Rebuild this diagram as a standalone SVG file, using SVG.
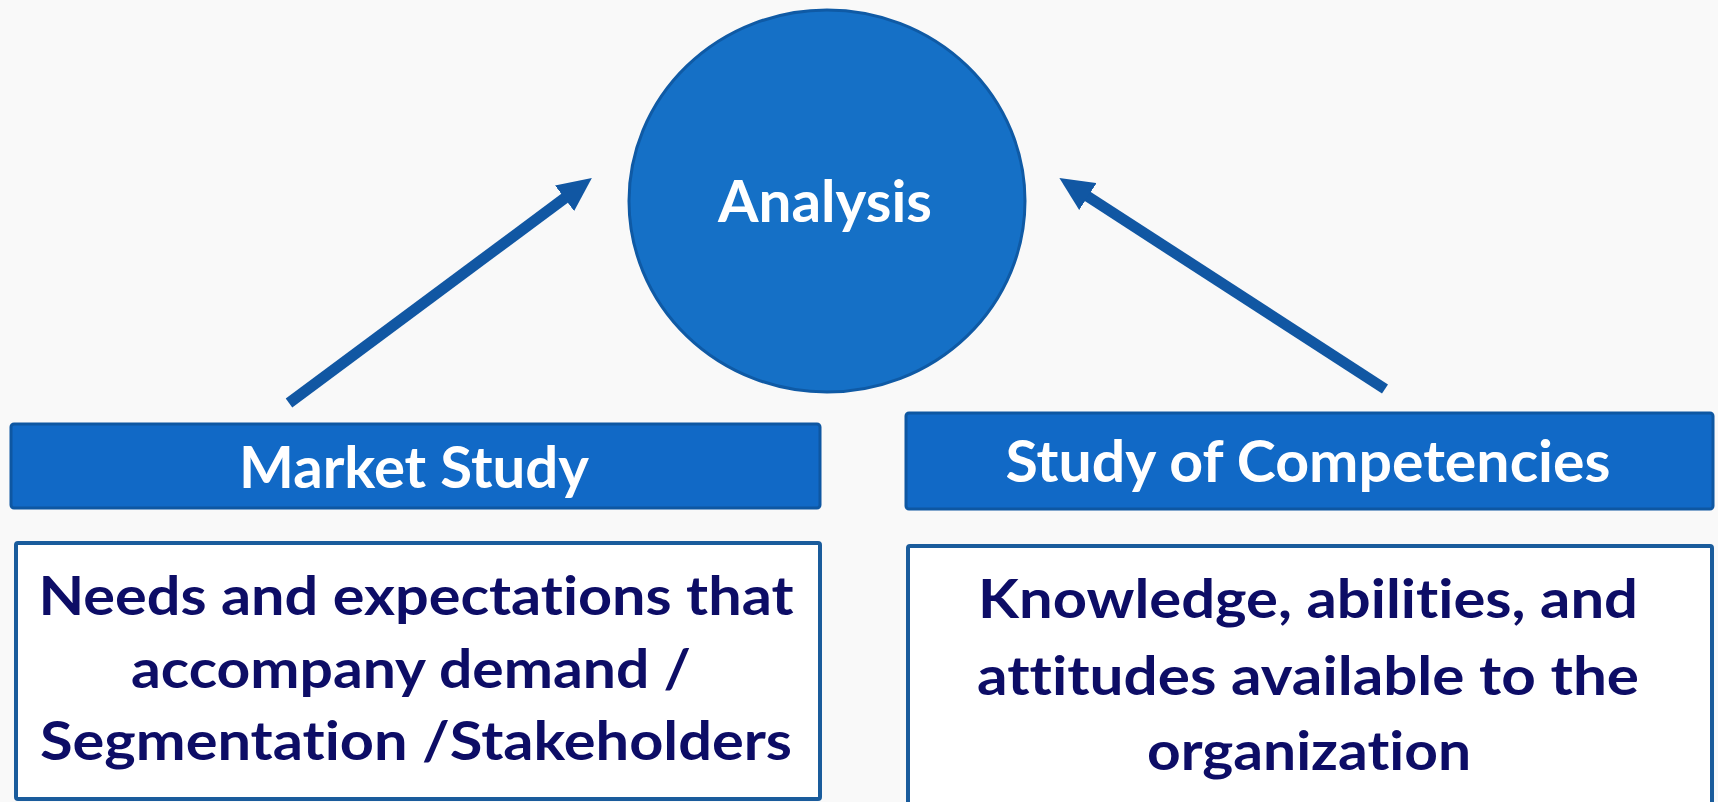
<svg xmlns="http://www.w3.org/2000/svg" width="1718" height="802" viewBox="0 0 1718 802">
  <defs>
    <marker id="head" markerUnits="userSpaceOnUse" markerWidth="34" markerHeight="32" viewBox="0 0 34 32" refX="13" refY="16" orient="auto">
      <path d="M0,0 L34,16 L0,32 z" fill="#1157A3"/>
    </marker>
    <style>
      .bg { fill: #F9F9F9; }
      .hub { fill: #1570C6; stroke: #0F5AA5; stroke-width: 3; }
      .bar { fill: #1169C6; stroke: #0E57A2; stroke-width: 3; }
      .card { fill: #FFFFFF; stroke: #1A5C9C; stroke-width: 4; }
      text { font-variant-ligatures: none; font-family: Lato, "Open Sans", sans-serif; font-weight: 700; text-anchor: middle; }
      .light { fill: #FFFFFF; }
      .dark { fill: #0D0D66; font-size: 54px; }
      .link { stroke: #1157A3; stroke-width: 11; fill: none; marker-end: url(#head); }
    </style>
  </defs>

  <rect class="bg" x="0" y="0" width="1718" height="802"/>

  <g id="connectors">
    <line class="link" x1="289" y1="403" x2="575" y2="190.5"/>
    <line class="link" x1="1385" y1="389" x2="1077" y2="189.5"/>
  </g>

  <g id="analysis">
    <ellipse class="hub" cx="827" cy="201" rx="198" ry="191"/>
    <text class="light" x="825" y="222" font-size="58" textLength="214" lengthAdjust="spacingAndGlyphs">Analysis</text>
  </g>

  <g id="market-study">
    <rect class="bar" x="11" y="424" width="809" height="84" rx="3"/>
    <text class="light" x="414" y="488" font-size="57" textLength="350" lengthAdjust="spacingAndGlyphs">Market Study</text>
  </g>

  <g id="study-of-competencies">
    <rect class="bar" x="906" y="413" width="807" height="96" rx="3"/>
    <text class="light" x="1308" y="482" font-size="57" textLength="605" lengthAdjust="spacingAndGlyphs">Study of Competencies</text>
  </g>

  <g id="market-details">
    <rect class="card" x="16" y="543" width="804" height="256" rx="2"/>
    <text class="dark" x="416" y="615" textLength="755" lengthAdjust="spacingAndGlyphs">Needs and expectations that</text>
    <text class="dark" x="411" y="688" textLength="560" lengthAdjust="spacingAndGlyphs">accompany demand /</text>
    <text class="dark" x="416" y="760" textLength="752" lengthAdjust="spacingAndGlyphs">Segmentation /Stakeholders</text>
  </g>

  <g id="competency-details">
    <rect class="card" x="908" y="546" width="804" height="262" rx="2"/>
    <text class="dark" x="1308" y="618" textLength="660" lengthAdjust="spacingAndGlyphs">Knowledge, abilities, and</text>
    <text class="dark" x="1308" y="695" textLength="662" lengthAdjust="spacingAndGlyphs">attitudes available to the</text>
    <text class="dark" x="1309" y="770" textLength="324" lengthAdjust="spacingAndGlyphs">organization</text>
  </g>
</svg>
